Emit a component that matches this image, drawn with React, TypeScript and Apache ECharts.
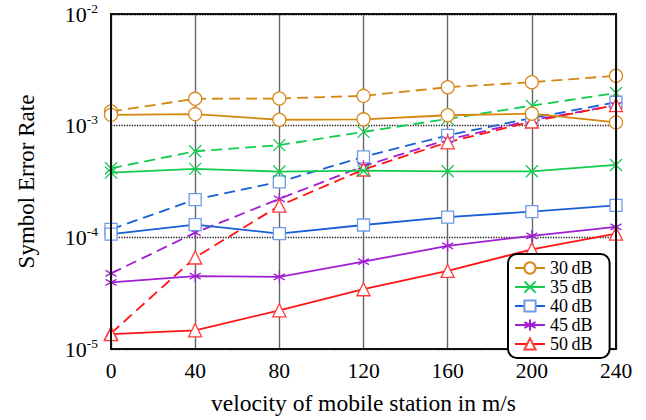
import React, { useEffect, useRef } from "react";
import * as echarts from "echarts";

const velocities = [0, 40, 80, 120, 160, 200, 240];
const snrLabels = ["30\u2009dB", "35\u2009dB", "40\u2009dB", "45\u2009dB", "50\u2009dB"];

// solid curves
const ser30Solid = [1.25e-3, 1.27e-3, 1.13e-3, 1.14e-3, 1.24e-3, 1.28e-3, 1.07e-3];
const ser35Solid = [3.8e-4, 4.1e-4, 3.88e-4, 3.95e-4, 3.9e-4, 3.9e-4, 4.45e-4];
const ser40Solid = [1.07e-4, 1.3e-4, 1.08e-4, 1.29e-4, 1.52e-4, 1.7e-4, 1.93e-4];
const ser45Solid = [3.95e-5, 4.5e-5, 4.43e-5, 6.05e-5, 8.4e-5, 1.03e-4, 1.24e-4];
const ser50Solid = [1.36e-5, 1.47e-5, 2.22e-5, 3.43e-5, 5.0e-5, 7.8e-5, 1.08e-4];

// dashed curves
const ser30Dashed = [1.34e-3, 1.74e-3, 1.75e-3, 1.85e-3, 2.21e-3, 2.45e-3, 2.8e-3];
const ser35Dashed = [4.15e-4, 5.9e-4, 6.7e-4, 8.8e-4, 1.15e-3, 1.51e-3, 1.96e-3];
const ser40Dashed = [1.18e-4, 2.18e-4, 3.14e-4, 5.25e-4, 8.2e-4, 1.17e-3, 1.62e-3];
const ser45Dashed = [4.75e-5, 1.1e-4, 2.21e-4, 4.34e-4, 7.5e-4, 1.12e-3, 1.52e-3];
const ser50Dashed = [1.38e-5, 6.6e-5, 1.92e-4, 4.05e-4, 7.1e-4, 1.09e-3, 1.53e-3];

const solidData = [ser30Solid, ser35Solid, ser40Solid, ser45Solid, ser50Solid];
const dashedData = [ser30Dashed, ser35Dashed, ser40Dashed, ser45Dashed, ser50Dashed];

const lineColors = ["#D4860E", "#12CC50", "#1A5FD6", "#A01FD2", "#FF1414"];
const markerColors = ["#D8891A", "#12CC50", "#6E9CE6", "#A01FD2", "#FF3A3A"];
const symbols = [
  "circle",
  "path://M0,0L10,10M0,10L10,0",
  "rect",
  "path://M5,0L5,10M0.67,2.5L9.33,7.5M0.67,7.5L9.33,2.5",
  "triangle",
];
const symbolSizes: any[] = [13, 12, 12, [11, 12], 13];
const symbolFills = ["#ffffff", "#12CC50", "#ffffff", "#A01FD2", "#ffffff"];

const FONT = "'Liberation Serif', 'Times New Roman', serif";

export default function App() {
  const ref = useRef<HTMLDivElement>(null);

  useEffect(() => {
    if (!ref.current) return;
    const chart = echarts.init(ref.current, null, { renderer: "svg" });

    const series: any[] = [];
    for (let i = 0; i < snrLabels.length; i++) {
      series.push({
        name: snrLabels[i] + " (dashed)",
        type: "line",
        data: velocities.map((v, j) => [v, dashedData[i][j]]),
        symbol: symbols[i],
        symbolSize: symbolSizes[i],
        showAllSymbol: true,
        lineStyle: { color: lineColors[i], width: 1.8, type: [11, 6] },
        itemStyle: {
          color: symbolFills[i],
          borderColor: markerColors[i],
          borderWidth: 1.3,
        },
        z: 2,
      });
    }
    for (let i = 0; i < snrLabels.length; i++) {
      series.push({
        name: snrLabels[i],
        type: "line",
        data: velocities.map((v, j) => [v, solidData[i][j]]),
        symbol: symbols[i],
        symbolSize: symbolSizes[i],
        showAllSymbol: true,
        lineStyle: { color: lineColors[i], width: 1.8, type: "solid" },
        itemStyle: {
          color: symbolFills[i],
          borderColor: markerColors[i],
          borderWidth: 1.3,
        },
        z: 3,
      });
    }

    chart.setOption({
      animation: false,
      backgroundColor: "#ffffff",
      textStyle: { fontFamily: FONT },
      grid: {
        left: 111,
        right: 30,
        top: 14,
        bottom: 69,
        show: true,
        borderColor: "#111",
        borderWidth: 2,
        backgroundColor: "transparent",
        z: 5,
      },
      legend: {
        data: snrLabels,
        orient: "vertical",
        left: 508,
        top: 254,
        itemWidth: 30,
        itemHeight: 14,
        itemGap: 1,
        itemTextGap: 16,
        padding: [5, 17, 5, 6],
        borderColor: "#000",
        borderWidth: 2,
        borderRadius: 9,
        backgroundColor: "#ffffff",
        textStyle: { fontFamily: FONT, fontSize: 18, color: "#000", lineHeight: 16 },
        z: 10,
      },
      xAxis: {
        type: "value",
        min: 0,
        max: 240,
        interval: 40,
        name: "velocity of mobile station in m/s",
        nameLocation: "middle",
        nameGap: 42,
        nameTextStyle: { fontFamily: FONT, fontSize: 23.5, color: "#000" },
        axisLine: { show: true, lineStyle: { color: "#111", width: 2 } },
        axisTick: { show: false },
        axisLabel: { fontFamily: FONT, fontSize: 21.5, color: "#000", margin: 11 },
        splitLine: { show: true, lineStyle: { color: "#666", width: 1.4 } },
      },
      yAxis: {
        type: "log",
        logBase: 10,
        min: 1e-5,
        max: 1e-2,
        name: "Symbol Error Rate",
        nameLocation: "middle",
        nameGap: 73,
        nameTextStyle: { fontFamily: FONT, fontSize: 23, color: "#000" },
        axisLine: { show: true, lineStyle: { color: "#111", width: 2 } },
        axisTick: { show: false },
        minorTick: { show: false },
        axisLabel: {
          margin: 13,
          formatter: (val: number) => {
            const e = Math.round(Math.log10(val));
            return "{b|10}{s|" + e + "}";
          },
          rich: {
            b: { fontFamily: FONT, fontSize: 22, color: "#000", lineHeight: 26 },
            s: { fontFamily: FONT, fontSize: 13.5, color: "#000", lineHeight: 14, verticalAlign: "top" },
          },
        },
        splitLine: { show: true, lineStyle: { color: "#222", width: 1.3, type: "dotted" } },
      },
      series,
    });

    return () => chart.dispose();
  }, []);

  return (
    <div
      ref={ref}
      style={{ position: "absolute", left: 0, top: 0, width: 646, height: 420 }}
    />
  );
}
